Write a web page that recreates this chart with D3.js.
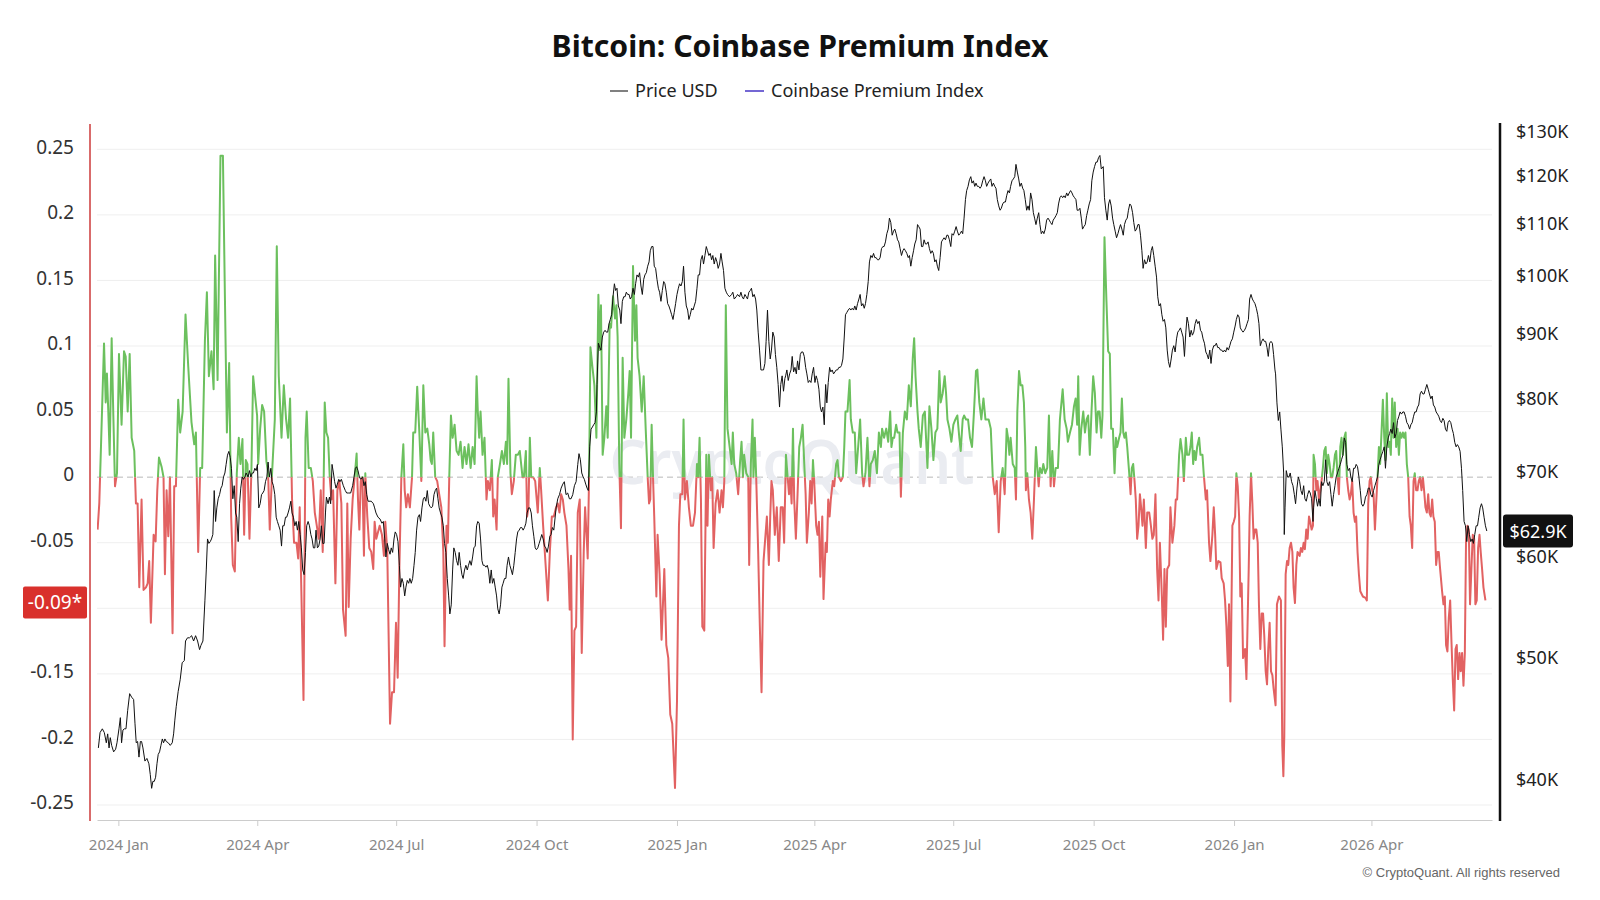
<!DOCTYPE html>
<html>
<head>
<meta charset="utf-8">
<script src="https://cdn.jsdelivr.net/npm/d3@7"></script>
<style>
  body { margin: 0; background: #fff; }
  svg { display: block; font-family: "Noto Sans", sans-serif; }
</style>
</head>
<body>
<svg id="chart" width="1600" height="900"></svg>
<script>
// day offsets count from this date
const startDate = new Date(Date.UTC(2023, 11, 18));

// [day offset, premium index]
const premiumSeries = [
  [0.4,-0.040],[1.5,-0.020],[2.6,0.023],[4.6,0.102],[5.7,0.057],[6.5,0.079],[7.4,0.050],[8.3,0.017],[9.6,0.106],[10.7,0.047],[11.8,-0.007],[13.1,0.003],[14.4,0.094],[16.1,0.040],[17.7,0.096],[18.8,0.092],[20.1,0.050],[21.4,0.094],[22.7,0.030],[24.4,0.020],[25.5,-0.020],[26.6,-0.020],[27.7,-0.084],[29.2,-0.017],[30.5,-0.086],[32.1,-0.084],[33.2,-0.081],[34.2,-0.064],[35.3,-0.111],[37.1,-0.044],[38.4,-0.049],[39.5,-0.010],[40.6,0.015],[42.3,0.008],[43.6,0.000],[44.5,-0.074],[45.6,-0.010],[46.7,-0.045],[47.8,0.000],[49.5,-0.119],[50.6,-0.007],[51.7,-0.007],[53.2,0.059],[54.5,0.034],[56.1,0.050],[58.0,0.124],[59.8,0.084],[61.9,0.042],[63.7,0.025],[64.8,0.034],[66.3,-0.057],[67.6,0.007],[68.9,0.007],[70.7,0.104],[72.0,0.141],[73.3,0.077],[75.0,0.096],[76.4,0.067],[77.4,0.169],[79.0,0.074],[80.9,0.245],[82.5,0.245],[83.8,0.138],[85.1,0.034],[86.6,0.087],[87.9,-0.030],[89.0,-0.067],[90.3,-0.072],[91.6,0.003],[92.9,0.030],[94.0,0.010],[95.3,0.029],[96.4,-0.044],[97.5,0.013],[98.6,0.010],[99.9,-0.047],[101.2,0.007],[102.3,0.077],[103.4,0.064],[104.9,0.047],[105.6,0.010],[106.9,0.037],[108.2,0.055],[109.5,0.050],[111.0,0.012],[112.1,0.003],[113.2,-0.040],[114.7,0.003],[116.5,0.044],[117.8,0.176],[119.1,0.077],[120.9,0.030],[122.4,0.070],[123.9,0.044],[125.2,0.030],[126.5,0.060],[127.8,-0.017],[129.1,-0.050],[130.7,-0.050],[131.8,-0.062],[132.8,-0.023],[133.9,-0.087],[135.3,-0.170],[136.6,0.030],[137.4,0.050],[138.7,0.007],[140.1,0.007],[141.4,-0.003],[142.7,-0.027],[144.0,-0.037],[145.3,-0.047],[146.6,-0.010],[147.9,-0.057],[149.2,0.057],
  [150.3,0.034],[151.4,0.030],[152.5,0.000],[153.6,-0.017],[154.7,-0.010],[156.2,-0.081],[157.5,-0.010],[158.8,-0.003],[160.1,-0.020],[161.2,-0.101],[162.9,-0.121],[164.0,-0.020],[164.9,-0.099],[166.2,-0.047],[167.5,-0.017],[168.8,0.000],[170.1,0.018],[171.0,-0.017],[171.9,-0.040],[172.8,-0.003],[173.9,0.000],[174.9,-0.060],[175.8,0.003],[177.1,-0.030],[178.4,-0.054],[179.7,-0.057],[181.0,-0.070],[181.9,-0.034],[183.0,-0.047],[184.1,-0.042],[185.2,-0.037],[186.7,-0.044],[188.0,-0.060],[188.9,-0.034],[190.2,-0.057],[192.0,-0.188],[193.3,-0.164],[194.6,-0.164],[195.9,-0.111],[197.0,-0.153],[198.1,-0.070],[199.4,0.000],[200.7,0.025],[201.6,-0.010],[202.6,-0.023],[203.7,-0.013],[205.0,-0.023],[206.4,0.000],[207.2,0.034],[208.5,0.034],[209.8,0.069],[211.2,0.034],[212.5,-0.003],[213.8,0.070],[215.1,0.034],[216.4,0.037],[217.7,0.025],[218.6,0.013],[219.4,0.010],[220.3,0.034],[221.6,0.000],[222.9,-0.003],[224.2,-0.013],[225.6,-0.023],[226.9,-0.057],[227.7,-0.129],[229.0,-0.037],[229.9,-0.050],[230.8,0.000],[231.9,0.047],[233.0,0.030],[234.3,0.040],[235.6,0.020],[236.9,0.017],[238.2,0.027],[239.5,0.007],[240.8,0.023],[242.1,0.010],[243.4,0.025],[244.8,0.007],[246.1,0.023],[247.4,0.010],[248.7,0.077],[249.5,0.050],[250.4,0.030],[251.3,0.050],[252.6,0.017],[253.9,0.030],[255.2,-0.017],[256.1,-0.003],[257.4,-0.010],[258.7,0.013],[259.6,-0.030],[260.5,-0.017],[261.8,-0.040],[262.6,0.000],[264.0,0.010],[265.3,0.020],[266.6,0.010],[267.9,0.027],[268.7,0.010],[269.6,0.075],[270.9,0.003],[271.8,-0.013],[273.1,-0.003],[274.4,0.017],[275.7,0.017],[277.0,0.020],[277.9,0.010],[278.8,0.000],[279.7,0.000],[281.0,0.020],[281.8,-0.030],[282.7,-0.023],[283.6,0.030],[284.5,0.000],[285.8,0.000],[287.1,-0.003],[288.8,-0.027],[290.1,0.007],[291.0,-0.010],[292.3,-0.037],[294.1,-0.070],[295.4,-0.094],[296.7,-0.057],[298.0,-0.030],[299.3,-0.030],
  [300.8,-0.023],[301.9,-0.020],[303.0,-0.027],[304.1,-0.013],[305.2,-0.017],[306.2,-0.027],[307.6,-0.037],[308.9,-0.070],[309.7,-0.101],[310.6,-0.060],[311.7,-0.200],[312.8,-0.117],[313.9,-0.114],[315.0,-0.027],[316.3,-0.017],[317.6,-0.134],[318.9,-0.057],[319.8,-0.023],[320.9,-0.047],[321.5,-0.062],[322.4,0.000],[323.3,0.099],[324.6,0.084],[325.9,0.070],[327.2,0.030],[328.5,0.139],[329.4,0.097],[330.2,0.131],[331.3,0.017],[332.4,0.030],[333.7,0.054],[334.6,0.030],[335.9,0.117],[336.8,0.114],[338.1,0.138],[339.4,0.121],[340.3,0.131],[341.1,0.107],[342.2,0.010],[343.3,-0.039],[344.4,0.091],[345.5,0.030],[346.8,0.044],[348.1,0.064],[349.0,0.081],[349.9,0.030],[351.2,0.161],[352.5,0.104],[353.4,0.131],[354.2,0.091],[355.5,0.077],[356.9,0.050],[358.2,0.077],[359.5,0.037],[360.8,0.000],[361.7,-0.020],[362.5,-0.017],[363.4,0.040],[364.3,0.000],[365.1,-0.030],[366.5,-0.091],[367.3,-0.044],[368.6,-0.074],[369.9,-0.124],[371.7,-0.070],[373.0,-0.128],[374.3,-0.138],[375.6,-0.181],[376.9,-0.188],[378.7,-0.237],[380.0,-0.171],[381.3,-0.037],[382.2,-0.013],[383.5,-0.013],[384.3,0.044],[385.2,-0.017],[386.5,-0.003],[387.8,-0.023],[389.1,-0.037],[390.5,-0.037],[391.8,-0.027],[393.1,0.010],[393.9,0.000],[394.8,0.030],[395.7,-0.017],[396.6,-0.114],[397.9,-0.117],[399.2,0.017],[400.0,-0.037],[400.9,0.017],[402.2,-0.010],[403.1,0.000],[404.0,-0.054],[405.3,-0.020],[406.6,-0.010],[407.9,-0.027],[409.2,-0.010],[410.1,-0.023],[411.0,-0.003],[412.0,0.131],[413.1,0.037],[414.5,0.023],[415.8,0.010],[416.6,0.034],[417.5,0.010],[418.8,0.003],[420.1,-0.013],[421.4,0.013],[422.3,0.027],[423.2,0.000],[424.0,0.017],[425.4,0.003],[426.7,0.000],[427.3,-0.067],[428.4,0.010],[429.5,0.044],[430.1,0.000],[431.0,0.030],[431.9,0.000],[433.2,-0.057],[434.3,-0.114],[435.4,-0.164],[436.7,-0.064],[438.0,-0.044],[438.9,-0.030],[440.2,-0.067],[441.1,-0.030],[441.9,-0.003],[442.8,-0.010],[444.1,-0.044],[445.4,-0.023],[446.7,-0.064],[448.0,-0.023],[449.3,-0.023],[450.2,-0.050],
  [451.4,0.017],[452.5,0.000],[453.4,-0.013],[454.2,0.000],[455.1,-0.020],[456.0,0.037],[456.8,-0.017],[457.9,-0.047],[459.0,-0.013],[460.1,0.023],[461.2,0.030],[462.3,0.040],[463.4,0.010],[464.3,-0.013],[465.1,-0.050],[466.4,-0.027],[467.3,-0.003],[468.2,-0.020],[469.1,0.013],[469.9,-0.003],[471.2,-0.037],[472.1,-0.044],[473.0,-0.034],[473.9,-0.076],[475.2,-0.030],[476.0,-0.093],[477.4,-0.050],[478.2,-0.057],[479.1,-0.017],[480.0,-0.030],[480.8,-0.017],[482.1,-0.003],[483.0,-0.007],[484.3,0.010],[485.2,0.013],[486.1,0.000],[487.4,-0.003],[488.7,0.000],[489.6,0.023],[490.4,0.050],[491.7,0.050],[493.1,0.074],[493.9,0.044],[495.2,0.034],[496.5,0.034],[497.4,0.003],[498.7,0.023],[500.0,0.044],[501.3,0.003],[502.2,-0.007],[503.5,0.003],[504.8,0.030],[506.1,-0.007],[507.0,0.010],[508.3,0.013],[509.6,0.020],[511.0,0.003],[512.3,0.034],[513.6,0.023],[514.4,0.037],[515.7,0.030],[517.1,0.037],[518.4,0.027],[519.7,0.050],[520.5,0.023],[521.4,0.030],[522.3,0.030],[523.6,0.040],[524.5,0.034],[525.8,0.034],[526.7,-0.015],[528.0,0.034],[529.3,0.050],[530.6,0.044],[531.9,0.070],[533.2,0.054],[534.5,0.091],[535.4,0.106],[536.3,0.077],[537.6,0.050],[538.4,0.037],[539.7,0.023],[541.1,0.047],[542.4,0.050],[544.1,0.007],[545.4,0.054],[546.7,0.037],[548.0,0.013],[549.3,0.034],[550.6,0.037],[551.9,0.081],[552.8,0.057],[554.1,0.064],[555.4,0.077],[556.3,0.064],[557.2,0.044],[558.5,0.037],[559.8,0.027],[561.1,0.040],[562.4,0.044],[563.7,0.047],[565.0,0.030],[565.9,0.020],[567.2,0.044],[568.1,0.047],[569.4,0.044],[570.7,0.044],[572.0,0.030],[573.3,0.023],[574.6,0.050],[575.9,0.081],[576.8,0.082],[578.1,0.057],[579.4,0.044],[580.8,0.060],[582.1,0.044],[582.9,0.044],[584.2,0.044],[585.6,0.037],[586.9,0.000],[588.2,-0.013],[589.5,-0.003],[590.8,-0.042],[592.1,-0.003],[593.4,0.007],[594.7,-0.013],[596.0,0.037],[596.9,0.030],[597.8,0.017],[598.6,0.030],[600.0,0.010],[601.3,0.007],[602.1,-0.017],[603.0,0.050],
  [604.1,0.081],[605.2,0.070],[606.3,0.070],[607.3,0.057],[608.2,0.023],[608.6,-0.010],[609.5,0.003],[610.6,-0.017],[611.7,-0.027],[612.8,-0.047],[613.9,-0.017],[615.2,0.023],[616.1,0.007],[617.0,-0.007],[617.8,0.007],[619.1,0.003],[620.0,0.010],[621.3,0.003],[622.6,0.007],[623.7,0.047],[624.8,-0.007],[625.9,0.020],[627.0,-0.007],[628.1,0.007],[629.6,0.007],[630.9,0.044],[632.7,0.067],[634.0,0.044],[635.3,0.037],[636.1,0.027],[637.5,0.034],[638.8,0.040],[640.1,0.054],[641.2,0.060],[642.2,0.040],[642.9,0.077],[643.8,0.017],[644.9,0.037],[646.2,0.050],[647.3,0.034],[648.4,0.044],[649.4,0.047],[650.5,0.017],[651.6,0.050],[652.7,0.077],[653.8,0.064],[654.9,0.034],[655.8,0.050],[656.9,0.050],[658.0,0.030],[658.8,0.047],[660.1,0.183],[661.4,0.134],[662.5,0.096],[663.6,0.094],[664.5,0.037],[665.6,0.037],[666.7,0.003],[667.6,0.030],[668.4,0.023],[669.7,0.030],[670.6,0.034],[671.5,0.060],[672.4,0.034],[673.2,0.030],[674.1,0.034],[675.0,0.023],[676.3,0.003],[677.2,-0.013],[678.0,0.007],[678.9,0.010],[679.8,-0.003],[680.6,-0.017],[681.5,-0.047],[682.4,-0.037],[683.3,-0.013],[684.1,-0.023],[685.0,-0.037],[685.9,-0.017],[687.2,-0.054],[688.1,-0.027],[689.4,-0.027],[690.2,-0.034],[691.5,-0.047],[692.4,-0.044],[693.5,-0.013],[694.6,-0.070],[695.5,-0.094],[696.4,-0.050],[697.7,-0.091],[698.5,-0.124],[699.4,-0.070],[700.3,-0.114],[701.2,-0.070],[702.5,-0.067],[703.3,-0.023],[704.6,-0.050],[705.9,-0.037],[706.8,-0.017],[707.7,-0.017],[709.0,0.017],[709.9,0.029],[711.2,0.017],[712.1,-0.003],[713.4,0.030],[714.2,0.017],[715.5,0.017],[716.4,0.023],[717.3,0.034],[718.2,0.010],[719.0,0.020],[719.9,0.013],[720.8,0.023],[722.1,0.030],[723.0,0.017],[724.3,0.017],[725.1,0.003],[726.5,-0.017],[727.3,-0.010],[728.6,-0.050],[729.5,-0.064],[730.8,-0.044],[731.7,-0.023],[732.6,-0.044],[733.4,-0.070],[734.7,-0.064],[736.1,-0.065],[736.9,-0.077],[738.2,-0.081],[739.1,-0.094],[740.0,-0.114],[740.9,-0.144],[741.7,-0.097],[742.6,-0.171],[743.9,-0.037],[744.8,-0.034],[745.7,-0.030],[746.5,0.003],[747.4,-0.007],[748.3,-0.030],[749.1,-0.091],[750.0,-0.081],[750.9,-0.138],[752.2,-0.131],[753.1,-0.154],
  [754.6,-0.070],[755.2,-0.030],[756.1,0.003],[757.0,-0.020],[757.8,-0.047],[758.7,-0.040],[759.6,-0.040],[760.5,-0.050],[761.3,-0.097],[762.2,-0.131],[763.1,-0.104],[764.0,-0.104],[764.8,-0.121],[765.7,-0.148],[766.6,-0.158],[767.4,-0.131],[768.3,-0.111],[769.2,-0.148],[770.1,-0.151],[770.9,-0.161],[772.2,-0.174],[773.1,-0.097],[774.4,-0.091],[775.7,-0.094],[776.6,-0.205],[777.3,-0.228],[777.9,-0.198],[778.8,-0.074],[779.7,-0.064],[780.5,-0.067],[781.4,-0.054],[782.3,-0.050],[783.2,-0.057],[784.0,-0.084],[784.9,-0.096],[785.8,-0.067],[786.6,-0.057],[788.0,-0.060],[788.8,-0.054],[789.7,-0.057],[790.6,-0.050],[791.4,-0.055],[792.3,-0.040],[793.2,-0.047],[794.1,-0.030],[794.9,-0.034],[795.8,-0.040],[796.7,-0.037],[797.1,0.017],[798.0,0.010],[798.9,-0.010],[799.7,-0.003],[800.6,-0.017],[801.5,-0.010],[802.3,-0.003],[803.2,0.007],[804.1,0.020],[805.0,0.023],[805.8,0.003],[806.7,0.017],[807.6,0.010],[808.5,0.000],[809.3,0.000],[810.2,0.007],[811.1,0.017],[811.9,0.020],[812.8,0.000],[813.7,-0.013],[814.6,0.023],[815.4,0.030],[816.3,0.017],[817.2,0.030],[818.1,0.034],[818.9,0.000],[819.8,-0.010],[820.7,-0.017],[821.5,-0.013],[822.4,-0.003],[823.3,-0.027],[824.2,-0.034],[825.0,-0.030],[825.9,-0.057],[826.8,-0.074],[827.7,-0.087],[829.4,-0.091],[831.1,-0.092],[832.0,-0.094],[832.9,-0.020],[833.8,-0.003],[834.6,0.000],[835.5,-0.010],[836.4,-0.013],[837.3,-0.040],[838.1,-0.020],[839.0,0.000],[839.9,0.023],[840.7,0.010],[841.6,0.034],[842.5,0.059],[843.4,0.030],[844.2,0.013],[845.1,0.064],[846.0,0.023],[846.9,0.027],[847.7,0.017],[848.6,0.060],[849.5,0.030],[850.3,0.057],[851.2,0.023],[852.1,0.037],[853.0,0.017],[853.8,0.034],[854.7,0.030],[855.6,0.034],[856.4,0.030],[857.3,0.034],[858.2,0.010],[859.1,0.000],[860.0,-0.030],[860.8,-0.037],[861.7,-0.054],[862.6,-0.003],[863.4,0.003],[864.3,-0.010],[865.2,-0.010],[866.0,-0.003],[866.9,0.000],[867.8,-0.010],[868.7,0.000],[869.5,-0.010],[870.4,-0.023],[871.3,-0.027],[872.2,-0.013],[873.0,-0.027],[873.9,-0.030],[874.8,-0.017],[875.6,-0.030],[876.5,-0.034],[877.4,-0.067],[878.3,-0.057],[879.1,-0.057],[880.0,-0.070],[881.3,-0.087],[882.2,-0.097],[883.1,-0.091],[883.9,-0.128],[884.8,-0.133],[885.7,-0.107],[886.6,-0.094],[887.4,-0.124],[888.3,-0.154],[889.2,-0.178],[890.1,-0.131],[890.9,-0.128],[891.8,-0.154],[892.7,-0.134],[893.5,-0.148],[894.4,-0.134],[895.3,-0.159],[896.2,-0.134],[897.0,-0.047],[897.9,-0.037],[898.8,-0.040],[899.6,-0.097],[900.5,-0.070],[901.4,-0.044],[902.3,-0.047],[903.1,-0.097],[904.0,-0.094],[904.9,-0.054],[905.8,-0.044],[906.6,-0.057],[907.5,-0.070],[908.4,-0.084],[909.7,-0.094]
];

// [day offset, price in thousand USD]
const priceSeries = [
  [0.9,42.4],[2.0,43.6],[3.5,43.9],[4.8,43.6],[6.1,42.8],[7.0,43.5],[7.9,42.4],[8.7,43.2],[9.6,42.6],[10.9,42.1],[12.2,42.3],[13.1,42.8],[14.4,43.9],[15.3,44.8],[16.1,42.8],[17.0,43.8],[17.9,43.9],[19.0,43.9],[20.1,45.4],[21.4,46.8],[22.7,46.5],[24.0,46.3],[24.9,44.3],[25.7,42.8],[26.6,42.9],[27.5,41.7],[28.4,42.9],[29.2,42.9],[30.1,42.4],[31.4,41.4],[32.7,41.6],[34.0,41.2],[34.9,40.4],[35.8,39.4],[36.6,39.9],[37.5,39.9],[38.4,40.2],[39.3,41.2],[40.1,41.9],[41.0,42.1],[41.9,42.6],[42.8,43.1],[43.6,42.8],[44.5,43.1],[45.4,42.9],[46.7,42.8],[48.0,42.6],[49.3,42.8],[50.2,43.5],[51.0,44.6],[51.9,45.7],[53.2,47.0],[54.5,48.0],[55.8,49.5],[57.2,49.7],[58.0,51.5],[59.3,51.8],[60.6,51.8],[62.0,52.0],[63.3,51.5],[64.6,52.0],[65.9,51.5],[67.2,50.7],[68.1,51.1],[69.4,51.5],[70.7,55.4],[71.6,58.6],[72.4,62.0],[73.3,61.5],[74.2,61.7],[75.0,62.0],[75.9,62.5],[76.8,67.7],[77.7,64.0],[78.5,65.6],[79.4,66.7],[80.3,67.2],[81.2,68.0],[82.0,68.3],[82.9,69.4],[83.8,69.9],[84.6,71.0],[85.5,72.2],[86.4,72.7],[87.3,71.9],[88.1,70.5],[89.0,66.7],[89.9,68.3],[90.8,65.0],[91.6,64.5],[92.5,61.7],[93.4,66.1],[94.2,68.0],[95.1,69.4],[96.0,69.1],[96.9,69.4],[97.7,69.9],[99.0,69.4],[99.9,70.2],[100.8,69.4],[101.7,69.9],[102.5,69.9],[103.4,70.5],[104.3,70.2],[105.1,71.0],[106.0,65.6],[106.9,66.1],[107.8,67.2],[108.6,67.4],[109.5,67.7],[110.4,68.8],[111.3,69.4],[112.1,71.3],[113.0,69.4],[113.9,70.5],[114.7,68.8],[115.6,68.3],[116.5,67.2],[117.4,64.5],[118.2,64.0],[119.1,63.5],[120.0,63.0],[120.9,61.2],[121.7,63.5],[122.6,63.5],[123.5,64.5],[124.3,64.5],[125.2,65.0],[126.1,65.6],[127.0,66.4],[127.8,65.0],[128.7,64.5],[129.6,63.5],[130.5,64.0],[131.3,63.0],[132.2,64.0],[133.1,62.5],[133.9,61.0],[134.8,58.6],[135.7,58.1],[136.6,60.5],[137.4,63.5],[138.3,64.0],[139.2,63.5],[140.1,62.5],[140.9,62.0],[141.8,61.0],[142.7,61.0],[143.5,63.0],[144.4,61.0],[145.3,61.2],[146.2,62.0],[147.0,63.5],[147.9,61.5],[148.8,61.5],[149.7,65.0],
  [150.3,66.9],[151.4,66.1],[152.3,66.9],[153.1,66.1],[154.0,71.0],[154.9,69.9],[155.7,68.8],[156.6,68.0],[157.5,68.5],[158.4,69.1],[159.2,68.8],[160.1,69.1],[161.4,68.3],[162.7,67.7],[163.6,67.4],[164.9,67.4],[166.2,67.4],[167.5,68.3],[168.4,69.4],[169.3,70.5],[170.1,70.7],[171.0,70.2],[171.9,69.4],[172.8,69.1],[174.1,69.4],[174.9,68.3],[175.8,68.8],[176.7,67.2],[177.6,66.4],[178.9,66.4],[179.7,66.4],[181.1,66.1],[181.9,65.6],[182.8,65.0],[184.1,64.5],[185.4,64.3],[186.7,63.8],[187.6,64.0],[188.5,62.0],[189.3,60.0],[190.2,61.5],[191.1,60.8],[192.0,60.3],[192.8,61.0],[193.7,60.5],[194.6,62.0],[195.4,62.8],[196.3,62.5],[197.2,61.7],[198.1,59.1],[198.9,56.8],[199.8,57.7],[200.7,57.2],[201.6,55.9],[202.4,56.8],[203.3,57.5],[204.2,57.2],[205.0,57.7],[205.9,57.2],[206.8,57.7],[207.7,59.1],[208.5,60.5],[209.4,63.0],[210.3,64.5],[211.2,64.8],[212.0,64.0],[212.9,65.6],[213.8,66.7],[214.6,66.9],[215.5,66.4],[216.4,67.7],[217.3,66.1],[218.1,65.8],[219.0,65.6],[219.9,65.8],[220.8,67.2],[221.6,67.7],[222.5,68.0],[223.4,66.7],[224.2,65.6],[225.1,65.0],[226.0,64.5],[226.9,63.5],[227.7,61.5],[228.6,60.5],[229.5,57.7],[230.4,55.9],[231.2,54.1],[232.1,55.0],[233.0,58.6],[233.8,61.0],[234.7,60.5],[235.6,59.6],[236.5,59.1],[237.3,60.5],[238.2,59.1],[239.1,58.1],[239.9,57.7],[240.8,58.6],[241.7,59.1],[242.6,58.6],[243.4,59.1],[244.3,59.6],[245.2,59.1],[246.1,60.0],[246.9,61.0],[247.8,61.2],[248.7,63.5],[249.5,64.0],[250.4,63.8],[251.3,62.0],[252.2,59.6],[253.0,59.1],[253.9,59.1],[254.8,58.9],[255.7,59.1],[256.5,58.6],[257.4,57.2],[258.3,58.6],[259.1,57.2],[260.0,57.7],[260.9,56.8],[261.8,55.9],[262.6,54.6],[263.5,54.1],[264.4,55.0],[265.3,56.8],[266.1,57.2],[267.0,57.7],[267.9,57.7],[268.7,59.1],[269.6,60.0],[270.5,59.1],[271.4,58.6],[272.2,58.1],[273.1,59.1],[274.0,60.5],[274.9,62.0],[275.7,62.8],[276.6,63.0],[277.5,63.3],[278.3,63.3],[279.2,63.0],[280.1,63.3],[281.0,63.8],[281.8,65.0],[282.7,65.6],[283.6,65.6],[284.5,65.0],[285.3,63.5],[286.2,62.3],[287.1,61.0],[287.9,60.8],[288.8,61.0],[289.7,61.5],[290.6,62.0],[291.4,62.5],[292.3,62.0],[293.2,61.2],[294.1,61.0],[294.9,60.5],[295.8,61.2],[296.7,62.3],[297.5,62.5],[298.4,63.3],[299.3,63.0],
  [300.8,65.6],[301.9,66.7],[303.0,67.2],[304.1,68.0],[305.2,68.5],[306.2,68.8],[307.3,67.2],[308.4,67.4],[309.5,66.7],[310.6,66.7],[311.7,67.2],[312.8,68.3],[313.9,68.8],[315.0,71.0],[315.8,72.4],[316.7,71.6],[317.6,69.9],[318.5,69.4],[319.3,69.1],[320.2,68.5],[321.1,68.0],[321.9,67.7],[322.8,73.3],[323.7,75.7],[324.6,76.0],[325.4,76.3],[326.3,76.6],[327.2,78.1],[327.6,82.1],[328.5,88.5],[329.4,87.8],[330.2,87.4],[331.1,89.5],[332.0,90.3],[332.9,90.6],[333.7,90.3],[334.6,90.3],[335.5,91.7],[336.3,92.4],[337.2,93.2],[338.1,96.3],[339.0,98.6],[339.8,97.4],[340.7,97.8],[341.6,94.7],[342.5,94.0],[343.3,91.7],[344.2,95.5],[345.1,96.3],[346.0,96.3],[346.8,97.1],[347.7,96.7],[348.6,96.7],[349.4,95.9],[350.3,96.3],[351.2,97.8],[352.1,96.7],[352.9,98.6],[353.8,100.2],[354.7,99.8],[355.5,100.6],[356.4,98.2],[357.3,96.7],[358.2,99.4],[359.0,100.2],[359.9,100.6],[360.8,101.8],[361.7,102.6],[362.5,104.7],[363.4,105.5],[364.3,105.5],[365.1,101.8],[366.0,101.4],[366.9,99.4],[367.8,97.8],[368.6,97.1],[369.5,95.5],[370.4,97.4],[371.3,99.0],[372.1,98.6],[373.0,97.1],[373.9,95.1],[374.7,94.7],[375.6,94.0],[376.5,93.2],[377.4,92.4],[378.2,93.6],[379.1,95.1],[380.0,96.7],[380.9,97.8],[381.7,98.6],[382.6,98.2],[383.5,99.0],[384.3,101.8],[385.2,97.1],[386.1,94.7],[387.0,94.0],[387.8,92.4],[388.7,93.2],[389.6,94.3],[390.5,94.0],[391.3,94.7],[392.2,95.5],[393.1,97.8],[393.9,100.2],[394.8,100.2],[395.7,103.0],[396.6,103.8],[397.4,102.2],[398.3,103.8],[399.2,105.5],[400.0,104.7],[400.9,103.8],[401.8,104.2],[402.7,103.0],[403.5,103.8],[404.4,102.2],[405.3,103.4],[406.2,102.6],[407.0,101.4],[407.9,102.2],[408.8,104.2],[409.6,102.6],[410.5,101.0],[411.4,97.8],[412.3,97.1],[413.1,96.7],[414.4,96.3],[415.8,96.7],[416.6,97.1],[417.5,95.9],[418.8,96.3],[419.7,96.7],[421.0,96.3],[421.9,97.1],[422.7,96.3],[423.6,95.9],[424.5,96.7],[425.4,96.3],[426.2,95.9],[427.1,97.1],[428.0,97.4],[428.8,97.8],[429.7,96.3],[430.6,96.7],[431.5,95.9],[432.3,94.0],[433.2,90.3],[434.1,87.4],[435.0,84.3],[435.8,84.3],[436.7,84.3],[437.6,85.3],[438.4,88.8],[439.3,94.0],[440.2,88.8],[441.1,86.0],[441.9,87.4],[442.8,90.3],[443.7,89.5],[444.5,86.7],[445.4,84.7],[446.3,82.1],[447.2,78.8],[448.0,82.1],[448.9,83.4],[449.8,81.1],[450.7,83.0],
  [451.2,83.4],[452.0,84.3],[452.9,82.7],[453.8,83.7],[454.7,84.3],[455.5,86.4],[456.4,84.0],[457.3,84.7],[458.2,83.7],[459.0,85.7],[459.9,84.3],[460.8,86.7],[461.6,87.1],[462.5,87.1],[463.4,86.4],[464.3,84.7],[465.1,83.7],[466.0,82.4],[466.9,82.7],[467.8,82.4],[468.6,83.7],[469.5,84.7],[470.4,82.4],[471.2,83.4],[472.1,82.7],[473.0,81.4],[473.9,78.8],[474.7,78.1],[475.6,78.8],[476.5,76.3],[477.4,82.1],[478.2,79.4],[479.1,82.4],[480.0,84.7],[480.8,84.0],[481.7,84.3],[482.6,83.7],[483.5,84.0],[484.3,84.3],[485.2,84.3],[486.1,84.7],[487.0,84.7],[487.8,85.0],[488.7,86.0],[489.6,89.5],[490.4,93.2],[491.3,93.6],[492.2,94.0],[493.1,94.3],[493.9,94.0],[494.8,94.3],[495.7,94.0],[496.5,94.7],[497.4,94.0],[498.3,95.1],[499.2,95.9],[500.0,96.7],[500.9,94.7],[501.8,95.1],[502.7,94.3],[503.5,95.1],[504.4,96.7],[505.3,99.0],[506.1,102.6],[507.0,103.8],[507.9,103.4],[508.8,104.2],[509.6,103.4],[510.5,103.4],[511.4,103.0],[512.3,103.0],[513.1,103.4],[514.0,105.1],[514.9,105.5],[515.7,105.5],[516.6,106.4],[517.5,108.0],[518.4,108.9],[519.2,111.1],[520.1,110.2],[521.0,107.7],[521.9,108.5],[522.7,108.9],[523.6,108.0],[524.5,106.8],[525.3,106.4],[526.2,105.1],[527.1,103.8],[528.0,104.7],[528.8,105.1],[529.7,104.7],[530.6,104.2],[531.5,103.4],[532.3,103.8],[533.2,101.8],[534.1,103.4],[535.0,104.7],[535.8,106.0],[536.7,106.8],[537.6,109.8],[538.4,109.4],[539.3,108.9],[540.2,105.5],[541.1,105.5],[541.9,106.8],[542.8,106.0],[543.7,106.0],[544.5,106.4],[545.4,105.1],[546.3,104.2],[547.2,104.7],[548.0,104.2],[548.9,102.6],[549.8,103.0],[550.6,101.8],[551.5,101.0],[552.4,103.4],[553.3,106.4],[554.1,106.8],[555.0,107.2],[555.9,106.8],[556.8,107.7],[557.6,107.7],[558.5,106.8],[559.4,105.5],[560.2,108.0],[561.1,107.7],[562.0,108.5],[562.9,109.4],[563.7,108.5],[564.6,107.7],[565.5,108.0],[566.4,108.5],[567.2,108.0],[568.1,111.1],[569.0,114.9],[569.8,116.8],[570.7,117.7],[571.6,119.1],[572.5,119.8],[573.3,118.4],[574.2,118.9],[575.1,117.7],[575.9,118.4],[576.8,117.7],[577.7,117.7],[578.6,117.3],[579.4,117.7],[580.3,118.9],[581.2,119.8],[582.1,118.9],[582.9,117.7],[583.8,118.4],[584.7,118.9],[585.6,119.3],[586.4,117.7],[587.3,118.4],[588.2,117.7],[589.0,117.3],[589.9,114.9],[590.8,113.6],[591.7,112.7],[592.5,113.1],[593.4,114.0],[594.3,114.4],[595.2,114.4],[596.0,115.7],[596.9,116.8],[597.8,116.3],[598.6,117.7],[599.5,118.9],[600.4,119.3],[601.3,119.8],[602.1,122.5],[603.0,120.8],
  [603.9,119.3],[604.7,117.7],[605.6,118.4],[606.5,117.3],[607.3,116.8],[608.2,114.9],[609.1,112.7],[610.0,113.6],[610.8,112.7],[611.7,116.3],[612.6,114.9],[613.5,112.2],[614.3,111.1],[615.2,109.8],[616.1,111.1],[617.0,112.2],[617.8,109.8],[618.7,108.0],[619.6,108.5],[620.4,108.0],[621.3,108.9],[622.2,110.7],[623.1,111.1],[623.9,110.7],[624.8,110.2],[625.7,109.8],[626.5,110.7],[627.4,111.1],[628.3,111.6],[629.2,112.2],[630.0,114.0],[630.9,115.3],[631.8,115.7],[632.7,115.3],[633.5,115.7],[634.4,115.3],[635.3,116.3],[636.1,115.7],[637.0,116.3],[637.9,116.8],[638.8,116.3],[639.6,115.7],[640.5,115.3],[641.4,114.9],[642.2,112.7],[643.1,112.7],[644.0,113.1],[644.9,111.1],[645.7,108.9],[646.6,109.4],[647.5,109.8],[648.4,111.6],[649.2,112.7],[650.1,114.0],[651.0,114.9],[651.8,118.9],[652.7,120.8],[653.6,122.0],[654.5,123.0],[655.3,123.0],[656.2,124.0],[657.1,124.5],[658.0,121.5],[659.3,122.0],[660.1,115.3],[661.0,112.7],[661.9,110.7],[662.8,114.0],[663.6,114.9],[664.5,113.6],[665.4,111.1],[666.2,109.8],[667.1,108.5],[668.0,107.2],[668.9,108.0],[669.7,108.9],[670.6,109.8],[671.5,108.9],[672.4,107.7],[673.2,109.8],[674.1,110.7],[675.0,111.1],[675.8,112.7],[676.7,114.0],[677.6,113.6],[678.5,112.2],[679.3,110.2],[680.2,108.5],[681.1,108.9],[682.0,109.8],[682.8,109.8],[683.7,107.7],[684.6,104.7],[685.4,101.4],[686.3,103.0],[687.2,102.2],[688.1,102.6],[688.9,103.8],[689.8,102.6],[690.7,104.7],[691.5,105.5],[692.4,103.8],[693.3,101.8],[694.2,99.8],[695.0,96.3],[695.9,94.7],[696.8,95.1],[697.7,93.2],[698.5,92.1],[699.4,92.4],[700.3,91.0],[701.2,87.4],[702.0,85.6],[702.9,84.7],[703.8,86.0],[704.6,87.4],[705.5,88.1],[706.4,87.1],[707.3,89.2],[708.1,90.3],[709.0,90.6],[709.9,91.0],[710.7,90.3],[711.6,89.5],[712.5,86.4],[713.4,90.3],[714.2,92.8],[715.1,91.7],[716.0,89.5],[716.9,90.6],[717.7,89.8],[718.6,90.3],[719.5,91.7],[720.3,92.4],[721.2,91.7],[722.1,92.1],[723.0,90.6],[723.8,90.3],[724.7,89.2],[725.6,88.5],[726.5,87.1],[727.3,86.7],[728.2,86.0],[729.1,87.4],[729.9,85.3],[730.8,87.4],[731.7,88.1],[732.6,88.1],[733.4,88.5],[734.3,87.8],[735.2,87.8],[736.1,87.4],[736.9,87.4],[737.8,87.1],[738.7,87.4],[739.5,87.1],[740.4,87.8],[741.3,87.4],[742.2,88.1],[743.0,88.8],[743.9,89.2],[744.8,90.3],[745.7,91.3],[746.5,92.4],[747.4,93.2],[748.3,92.8],[749.1,91.0],[750.0,90.6],[750.9,90.3],[751.8,90.6],[752.6,91.0],[753.5,91.7],[754.4,92.4],
  [755.2,95.9],[756.1,96.7],[757.0,95.9],[757.8,95.5],[758.7,95.1],[759.6,94.3],[760.5,93.2],[761.3,91.7],[762.2,88.1],[763.1,88.8],[764.0,89.2],[764.8,88.8],[765.7,88.8],[766.6,87.8],[767.4,86.4],[768.3,88.5],[769.2,88.8],[770.1,88.5],[770.9,86.7],[771.8,84.3],[772.2,83.7],[773.1,79.4],[774.0,76.9],[774.9,78.1],[775.7,75.7],[776.6,73.3],[777.5,69.9],[777.9,62.5],[778.4,65.6],[779.2,70.2],[780.1,69.4],[781.0,69.4],[781.8,69.9],[782.7,68.8],[783.6,68.3],[784.5,67.2],[785.3,66.1],[786.2,68.0],[787.1,69.4],[788.0,68.8],[788.8,67.7],[789.7,67.2],[790.6,68.3],[791.4,66.7],[792.3,66.4],[793.2,67.2],[794.1,67.7],[794.9,67.4],[795.8,66.7],[796.7,64.0],[797.1,65.6],[798.0,67.7],[798.9,66.7],[799.7,65.8],[800.6,66.7],[801.5,65.8],[802.3,68.8],[803.2,68.3],[804.1,68.8],[805.0,71.6],[805.8,68.8],[806.7,68.3],[807.6,68.8],[808.5,67.2],[809.3,65.8],[810.2,67.2],[811.1,68.3],[811.9,69.4],[812.8,69.9],[813.7,70.5],[814.6,71.0],[815.4,71.6],[816.3,72.2],[817.2,74.5],[818.1,73.9],[818.9,71.0],[819.8,70.2],[820.7,70.5],[821.5,69.4],[822.4,68.8],[823.3,70.5],[824.2,70.5],[825.0,71.0],[825.9,70.7],[826.8,69.4],[827.7,67.7],[828.5,66.1],[829.4,65.8],[830.3,66.1],[831.1,66.9],[832.0,67.2],[832.9,68.0],[833.8,68.0],[834.6,67.2],[835.5,66.9],[836.4,67.7],[837.3,68.3],[838.1,68.8],[839.0,69.4],[839.9,71.0],[840.7,71.6],[841.6,72.2],[842.5,72.7],[843.4,73.3],[844.2,70.5],[845.1,73.3],[846.0,74.5],[846.9,75.1],[847.7,75.7],[848.6,75.1],[849.5,76.6],[850.3,74.5],[851.2,75.1],[852.1,76.9],[853.0,77.5],[853.8,78.1],[854.7,77.8],[855.6,78.1],[856.4,78.1],[857.3,77.5],[858.2,76.6],[859.1,76.3],[860.0,75.7],[860.8,76.3],[861.7,76.6],[862.6,77.5],[863.4,78.1],[864.3,78.1],[865.2,78.8],[866.0,79.1],[866.9,80.7],[867.8,81.1],[868.7,80.7],[869.5,80.7],[870.4,81.4],[871.3,82.1],[872.2,81.4],[873.0,80.7],[873.9,80.0],[874.8,80.4],[875.6,79.1],[876.5,78.8],[877.4,78.1],[878.3,77.8],[879.1,77.5],[880.0,76.9],[880.9,76.6],[881.8,77.2],[882.6,76.9],[883.5,75.7],[884.4,75.4],[885.2,76.6],[886.1,76.9],[887.0,76.6],[887.9,75.7],[888.7,75.1],[889.6,73.9],[890.5,73.3],[891.3,73.6],[892.2,73.3],[893.1,72.7],[894.0,70.5],[894.8,67.7],[895.7,64.0],[896.6,63.5],[897.5,61.7],[898.3,63.5],[899.2,62.5],[900.1,61.7],[901.0,62.0],[901.8,61.5],[902.7,62.5],[903.6,63.5],[904.5,63.5],[905.3,64.5],[906.2,65.6],[907.1,66.1],[907.9,65.6],[908.8,64.5],[909.7,63.5],[910.6,62.9]
];

const leftTicks = [0.25, 0.2, 0.15, 0.1, 0.05, 0, -0.05, -0.1, -0.15, -0.2, -0.25];
const rightTicks = [40, 50, 60, 70, 80, 90, 100, 110, 120, 130];
const monthTicks = ["2024-01-01", "2024-04-01", "2024-07-01", "2024-10-01", "2025-01-01",
  "2025-04-01", "2025-07-01", "2025-10-01", "2026-01-01", "2026-04-01"];

const plot = { left: 97, right: 1492, top: 125, bottom: 820 };
const dayMs = 864e5;
const toDate = d => new Date(startDate.getTime() + d * dayMs);

const svg = d3.select("#chart");
svg.append("rect").attr("width", 1600).attr("height", 900).attr("fill", "#fff");

const x = d3.scaleUtc()
  .domain([startDate, toDate(914)])
  .range([plot.left, plot.right]);

const yL = d3.scaleLinear().domain([-0.25, 0.25]).range([805, 149.3]);
const yR = d3.scaleLog().domain([40, 130]).range([780, 131.7]);

const lastPremium = premiumSeries[premiumSeries.length - 1][1];
const badgeY = yL(lastPremium) + 2;

// title
const title = svg.append("text")
  .attr("x", 800).attr("y", 57)
  .attr("text-anchor", "middle")
  .attr("font-size", 30).attr("font-weight", 700).attr("fill", "#111")
  .text("Bitcoin: Coinbase Premium Index");
const tw = title.node().getComputedTextLength();
title.attr("font-size", Math.max(26, Math.min(33, 30 * 497 / tw)));

// legend
const legend = svg.append("g").attr("font-size", 18).attr("fill", "#222");
legend.append("line").attr("x1", 610).attr("x2", 628).attr("y1", 91).attr("y2", 91)
  .attr("stroke", "#808080").attr("stroke-width", 2);
legend.append("text").attr("x", 635).attr("y", 97).text("Price USD");
legend.append("line").attr("x1", 745).attr("x2", 764).attr("y1", 91).attr("y2", 91)
  .attr("stroke", "#7467d4").attr("stroke-width", 2);
legend.append("text").attr("x", 771).attr("y", 97).text("Coinbase Premium Index");

// grid
svg.append("g")
  .selectAll("line")
  .data(leftTicks)
  .join("line")
  .attr("x1", plot.left).attr("x2", plot.right)
  .attr("y1", d => yL(d)).attr("y2", d => yL(d))
  .attr("stroke", d => d === 0 ? "#b8b8b8" : "#efefef")
  .attr("stroke-width", 1)
  .attr("stroke-dasharray", d => d === 0 ? "6,4" : null);

// watermark
svg.append("text")
  .attr("x", 792).attr("y", 467)
  .attr("text-anchor", "middle").attr("dominant-baseline", "middle")
  .attr("font-size", 62).attr("font-weight", 600)
  .attr("fill", "#eaecf1")
  .attr("textLength", 365).attr("lengthAdjust", "spacingAndGlyphs")
  .text("CryptoQuant");

// x axis
const xAxis = d3.axisBottom(x)
  .tickValues(monthTicks.map(s => new Date(s + "T00:00:00Z")))
  .tickFormat(d3.utcFormat("%Y %b"))
  .tickSize(6).tickSizeOuter(0).tickPadding(13);
const gx = svg.append("g").attr("transform", `translate(0,${plot.bottom})`).call(xAxis);
gx.select(".domain").attr("stroke", "#cccccc");
gx.selectAll(".tick line").attr("stroke", "#cccccc");
gx.selectAll("text").attr("fill", "#888").attr("font-size", 15)
  .attr("font-family", "\"Noto Sans\", sans-serif");

// left axis, the label under the badge is hidden
const gl = svg.append("g").attr("transform", "translate(90,0)")
  .call(d3.axisLeft(yL).tickValues(leftTicks).tickSize(0).tickPadding(16)
    .tickFormat(d => String(+d.toFixed(2))));
gl.select(".domain").remove();
gl.selectAll("text").attr("fill", "#333").attr("font-size", 19).attr("dy", "0.2em")
  .attr("font-family", "\"Noto Sans\", sans-serif");
gl.selectAll(".tick").filter(d => Math.abs(yL(d) - badgeY) < 26).remove();
svg.append("line").attr("x1", 90).attr("x2", 90).attr("y1", 124).attr("y2", 821)
  .attr("stroke", "#d96b6b").attr("stroke-width", 2);

// right axis
const gr = svg.append("g").attr("transform", "translate(1500,0)")
  .call(d3.axisRight(yR).tickValues(rightTicks).tickSize(0).tickPadding(16)
    .tickFormat(d => `$${d}K`));
gr.select(".domain").remove();
gr.selectAll("text").attr("fill", "#222").attr("font-size", 18)
  .attr("font-family", "\"Noto Sans\", sans-serif");
svg.append("line").attr("x1", 1500).attr("x2", 1500).attr("y1", 123).attr("y2", 821)
  .attr("stroke", "#111").attr("stroke-width", 2.5);

// premium line, green above zero and red below
const y0 = yL(0);
const defs = svg.append("defs");
defs.append("clipPath").attr("id", "clip-up").append("rect")
  .attr("x", plot.left).attr("y", 0).attr("width", plot.right - plot.left).attr("height", y0);
defs.append("clipPath").attr("id", "clip-down").append("rect")
  .attr("x", plot.left).attr("y", y0).attr("width", plot.right - plot.left).attr("height", 900 - y0);

const premiumLine = d3.line()
  .x(d => x(toDate(d[0])))
  .y(d => yL(d[1]));

svg.append("path").datum(premiumSeries)
  .attr("d", premiumLine).attr("fill", "none")
  .attr("stroke", "#6cc05e").attr("stroke-width", 2).attr("stroke-linejoin", "round")
  .attr("clip-path", "url(#clip-up)");
svg.append("path").datum(premiumSeries)
  .attr("d", premiumLine).attr("fill", "none")
  .attr("stroke", "#e26262").attr("stroke-width", 2).attr("stroke-linejoin", "round")
  .attr("clip-path", "url(#clip-down)");

// price line
const priceLine = d3.line()
  .x(d => x(toDate(d[0])))
  .y(d => yR(d[1]));
svg.append("path").datum(priceSeries)
  .attr("d", priceLine).attr("fill", "none")
  .attr("stroke", "#111").attr("stroke-width", 1).attr("stroke-linejoin", "round");

// last value badges
svg.append("rect").attr("x", 23).attr("y", badgeY - 16).attr("width", 64).attr("height", 32)
  .attr("rx", 2).attr("fill", "#d9302c");
svg.append("text").attr("x", 55).attr("y", badgeY)
  .attr("text-anchor", "middle").attr("dominant-baseline", "central")
  .attr("font-size", 19).attr("fill", "#fff")
  .text(`${+lastPremium.toFixed(2)}*`);

const lastPrice = priceSeries[priceSeries.length - 1][1];
const lq = yR(lastPrice);
svg.append("rect").attr("x", 1503).attr("y", lq - 16.5).attr("width", 70).attr("height", 33)
  .attr("rx", 3).attr("fill", "#111");
svg.append("text").attr("x", 1538).attr("y", lq)
  .attr("text-anchor", "middle").attr("dominant-baseline", "central")
  .attr("font-size", 18).attr("fill", "#fff")
  .text(`$${lastPrice.toFixed(1)}K`);

// footer
svg.append("text")
  .attr("x", 1560).attr("y", 877)
  .attr("text-anchor", "end")
  .attr("font-family", "\"Liberation Sans\", Arial, sans-serif")
  .attr("font-size", 13).attr("fill", "#666")
  .text("© CryptoQuant. All rights reserved");
</script>
</body>
</html>
